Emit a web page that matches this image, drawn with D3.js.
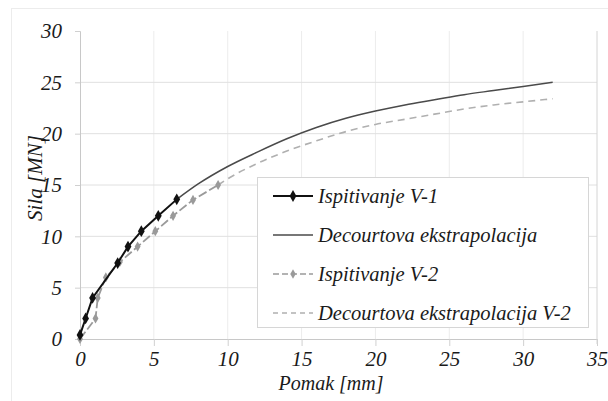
<!DOCTYPE html>
<html>
<head>
<meta charset="utf-8">
<script src="https://cdn.jsdelivr.net/npm/d3@7"></script>
<style>
  body { margin: 0; background: #fff; }
  svg text { font-family: "Liberation Serif", "Times New Roman", Times, serif; font-style: italic; fill: #1a1a1a; }
</style>
</head>
<body>
<div id="chart"></div>
<script>
// measured test data (pomak mm, sila MN)
var v1Pomak = [0, 0.38, 0.85, 2.55, 3.25, 4.15, 5.3, 6.55];
var v1Sila  = [0.4, 2.0, 4.0, 7.4, 9.0, 10.5, 12.0, 13.6];

var v2Pomak = [0, 1.05, 1.2, 1.75, 2.7, 3.9, 5.1, 6.3, 7.65, 9.35];
var v2Sila  = [0, 2.0, 4.0, 6.0, 7.5, 9.0, 10.5, 12.0, 13.55, 15.0];

// Decourt extrapolations
var dec1Pomak = [6.55, 8, 10, 12, 14, 16, 18, 20, 22, 24, 26, 28, 30, 32];
var dec1Sila  = [13.6, 15.1, 16.8, 18.2, 19.5, 20.6, 21.5, 22.2, 22.8, 23.3, 23.8, 24.2, 24.6, 25.0];

var dec2Pomak = [9.35, 10, 12, 14, 16, 18, 20, 22, 24, 26, 28, 30, 32];
var dec2Sila  = [15.0, 15.6, 17.1, 18.3, 19.3, 20.2, 20.9, 21.4, 21.9, 22.4, 22.8, 23.1, 23.4];

var xTicks = [0, 5, 10, 15, 20, 25, 30, 35];
var yTicks = [0, 5, 10, 15, 20, 25, 30];

var legendLabels = ['Ispitivanje V-1', 'Decourtova ekstrapolacija', 'Ispitivanje V-2', 'Decourtova ekstrapolacija V-2'];

var width = 608, height = 401;
var svg = d3.select('#chart').append('svg')
  .attr('width', width)
  .attr('height', height);

// faint outer frame
svg.append('rect')
  .attr('x', 11.5).attr('y', 8.5)
  .attr('width', 600).attr('height', 400)
  .attr('fill', 'none')
  .attr('stroke', '#ececec');

var x = d3.scaleLinear().domain([0, 35]).range([80, 597]);
var y = d3.scaleLinear().domain([0, 30]).range([339, 31]);

function zip(a, b){
  return a.map(function(d, i){ return [d, b[i]]; });
}

// grid
svg.append('g').selectAll('line')
  .data(xTicks.slice(1, -1))
  .enter().append('line')
  .attr('x1', function(d){ return x(d); }).attr('x2', function(d){ return x(d); })
  .attr('y1', y(30)).attr('y2', y(0))
  .attr('stroke', '#ececec');

svg.append('g').selectAll('line')
  .data(yTicks.slice(1, -1))
  .enter().append('line')
  .attr('x1', x(0)).attr('x2', x(35))
  .attr('y1', function(d){ return y(d); }).attr('y2', function(d){ return y(d); })
  .attr('stroke', '#e0e0e0');

// axes
var xAxis = svg.append('g')
  .attr('transform', 'translate(0,' + y(0) + ')')
  .call(d3.axisBottom(x).tickValues(xTicks).tickSize(7).tickPadding(5));
var yAxis = svg.append('g')
  .attr('transform', 'translate(' + x(0) + ',0)')
  .call(d3.axisLeft(y).tickValues(yTicks).tickSize(5).tickPadding(13));

[xAxis, yAxis].forEach(function(ax){
  ax.attr('font-family', null).attr('font-size', null);
  ax.select('.domain').attr('stroke', '#c8c8c8');
  ax.selectAll('.tick line').attr('stroke', '#d0d0d0');
  ax.selectAll('.tick text')
    .attr('fill', '#1a1a1a')
    .style('font-size', '21px');
});

// right border of plot
svg.append('line')
  .attr('x1', x(35)).attr('x2', x(35))
  .attr('y1', y(30)).attr('y2', y(0) + 5)
  .attr('stroke', '#d4d4d4');

// axis titles
svg.append('text')
  .attr('x', 331).attr('y', 390)
  .attr('text-anchor', 'middle')
  .style('font-size', '20px')
  .text('Pomak [mm]');

svg.append('text')
  .attr('transform', 'translate(42,178) rotate(-90)')
  .attr('text-anchor', 'middle')
  .style('font-size', '21px')
  .text('Sila [MN]');

var line = d3.line()
  .x(function(d){ return x(d[0]); })
  .y(function(d){ return y(d[1]); });
var curve = d3.line()
  .x(function(d){ return x(d[0]); })
  .y(function(d){ return y(d[1]); })
  .curve(d3.curveMonotoneX);

var diamond = d3.symbol().type(d3.symbolDiamond);

// Decourt V-2 (dashed)
svg.append('path')
  .datum(zip(dec2Pomak, dec2Sila))
  .attr('d', curve)
  .attr('fill', 'none')
  .attr('stroke', '#b0b0b0')
  .attr('stroke-width', 1.6)
  .attr('stroke-dasharray', '7,5');

// Decourt V-1 (solid)
svg.append('path')
  .datum(zip(dec1Pomak, dec1Sila))
  .attr('d', curve)
  .attr('fill', 'none')
  .attr('stroke', '#4a4a4a')
  .attr('stroke-width', 1.5);

// V-2 test
svg.append('path')
  .datum(zip(v2Pomak, v2Sila))
  .attr('d', line)
  .attr('fill', 'none')
  .attr('stroke', '#9a9a9a')
  .attr('stroke-width', 1.8)
  .attr('stroke-dasharray', '9,3');
svg.append('g').selectAll('path')
  .data(zip(v2Pomak, v2Sila))
  .enter().append('path')
  .attr('d', diamond.size(30))
  .attr('transform', function(d){ return 'translate(' + x(d[0]) + ',' + y(d[1]) + ')'; })
  .attr('fill', '#9a9a9a');

// V-1 test
svg.append('path')
  .datum(zip(v1Pomak, v1Sila))
  .attr('d', line)
  .attr('fill', 'none')
  .attr('stroke', '#111')
  .attr('stroke-width', 2);
svg.append('g').selectAll('path')
  .data(zip(v1Pomak, v1Sila))
  .enter().append('path')
  .attr('d', diamond.size(40))
  .attr('transform', function(d){ return 'translate(' + x(d[0]) + ',' + y(d[1]) + ')'; })
  .attr('fill', '#111');

// legend
var legend = svg.append('g');
legend.append('rect')
  .attr('x', 257.5).attr('y', 177.5)
  .attr('width', 331).attr('height', 150)
  .attr('fill', '#fff')
  .attr('stroke', '#d6d6d6');

var legStyles = [
  {stroke: '#111', width: 2, dash: null, marker: 40},
  {stroke: '#4a4a4a', width: 1.5, dash: null, marker: 0},
  {stroke: '#9a9a9a', width: 1.5, dash: '6,3', marker: 26},
  {stroke: '#b0b0b0', width: 1.5, dash: '5,4', marker: 0}
];
var legY = [196, 235, 274, 313];

legendLabels.forEach(function(label, i){
  var s = legStyles[i];
  legend.append('line')
    .attr('x1', 273).attr('x2', 313)
    .attr('y1', legY[i]).attr('y2', legY[i])
    .attr('stroke', s.stroke)
    .attr('stroke-width', s.width)
    .attr('stroke-dasharray', s.dash);
  if(s.marker){
    legend.append('path')
      .attr('d', diamond.size(s.marker)())
      .attr('transform', 'translate(293,' + legY[i] + ')')
      .attr('fill', s.stroke);
  }
  legend.append('text')
    .attr('x', 318).attr('y', legY[i])
    .attr('dy', '0.35em')
    .style('font-size', '20.5px')
    .text(label);
});
</script>
</body>
</html>
